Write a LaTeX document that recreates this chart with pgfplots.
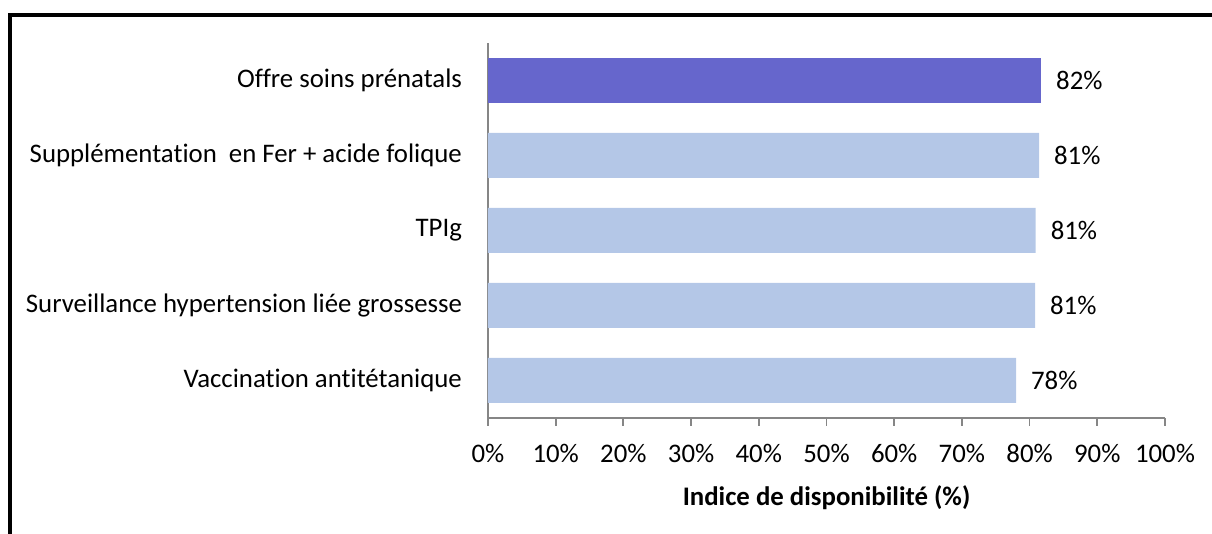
\documentclass[border=0pt]{standalone}
\usepackage{fontspec}
\setmainfont{Carlito}[Ligatures=NoCommon]
\usepackage{pgfplots}
\pgfplotsset{compat=1.18}

\definecolor{barlight}{RGB}{180,199,231}
\definecolor{bardark}{RGB}{102,102,204}
\definecolor{axisgray}{RGB}{134,134,134}

\begin{document}
\begin{tikzpicture}
\useasboundingbox (0,0) rectangle (606pt,267pt);
% partial frame (top and left edges)
\draw[line width=2pt] (4.8pt,0) -- (4.8pt,259.6pt) -- (620pt,259.6pt);
\begin{axis}[
    at={(244pt,58pt)}, anchor=south west,
    scale only axis,
    width=338.5pt, height=187.5pt,
    xbar, bar width=22.5pt, bar shift=0pt,
    xmin=0, xmax=100,
    ymin=0.5, ymax=5.5,
    axis x line*=bottom, axis y line*=left,
    axis line style={axisgray, line width=0.9pt},
    xtick={0,10,...,100},
    xticklabel={\pgfmathprintnumber{\tick}\%},
    /pgf/number format/assume math mode=true,
    xtick style={axisgray, line width=0.9pt},
    tick align=outside,
    major tick length=4pt,
    ytick={1,2,3,4,5},
    yticklabels={Vaccination antitétanique,
                 Surveillance hypertension liée grossesse,
                 TPIg\ ,
                 Supplémentation\ \ en Fer + acide folique,
                 Offre soins prénatals},
    ytick style={draw=none},
    yticklabel style={xshift=-5.5pt},
    tick label style={font=\fontsize{13.4}{15}\selectfont},
    xticklabel style={yshift=-5.5pt},
    xlabel={\textbf{Indice de disponibilité (\%)}},
    xlabel style={font=\fontsize{13.4}{15}\selectfont, yshift=-4.5pt},
    nodes near coords={\pgfmathprintnumber[fixed,precision=0]{\pgfplotspointmeta}\%},
    nodes near coords style={font=\fontsize{13.4}{15}\selectfont, anchor=west, xshift=4pt,
        /pgf/number format/assume math mode=true},
    clip=false,
]
\addplot[fill=barlight, draw=none] coordinates {
    (78.0,1) (80.8,2) (80.9,3) (81.4,4)
};
\addplot[fill=bardark, draw=none] coordinates {
    (81.7,5)
};
\end{axis}
\end{tikzpicture}
\end{document}
